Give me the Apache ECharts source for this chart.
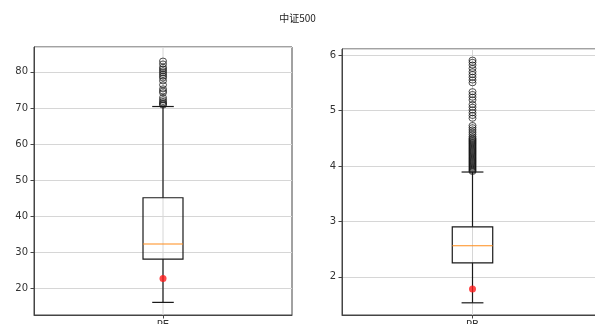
<!DOCTYPE html>
<html>
<head>
<meta charset="utf-8">
<script src="https://cdn.jsdelivr.net/npm/echarts@6/dist/echarts.min.js"></script>
<style>html,body{margin:0;padding:0;background:#fff}#c{width:595px;height:324px}</style>
</head>
<body>
<div id="c"></div>
<script>
const title = '中证500';
const catPE = ['PE'];
const catPB = ['PB'];
// [low whisker, Q1, median, Q3, high whisker]
const boxPE = [16.1, 28.1, 32.3, 45.1, 70.4];
const boxPB = [1.53, 2.25, 2.56, 2.90, 3.89];
const meanPE = [22.7];
const meanPB = [1.78];
const outPE = [70.8, 71.1, 71.4, 71.8, 72.3, 72.9, 74.2, 74.7, 75.3, 76.4, 77.5, 78.3, 78.8, 79.3, 79.8, 80.3, 80.8, 81.3, 82.2, 83.0];
const outPB = [3.90, 3.92, 3.94, 3.96, 3.98, 4.00, 4.02, 4.04, 4.06, 4.08, 4.10, 4.12, 4.14, 4.16, 4.18, 4.20, 4.22, 4.24, 4.26, 4.28, 4.30, 4.32, 4.34, 4.36, 4.38, 4.40, 4.42, 4.44, 4.46, 4.48, 4.50, 4.53, 4.57, 4.61, 4.65, 4.69, 4.73,
  4.86, 4.91, 4.96, 5.01, 5.06, 5.11, 5.19, 5.24, 5.29, 5.34,
  5.50, 5.55, 5.60, 5.65, 5.70, 5.76, 5.82, 5.87, 5.91];
const yPE = {min: 12.6, max: 86.9, split: 7};
const yPB = {min: 1.31, max: 6.11, split: 5};

const chart = echarts.init(document.getElementById('c'), null, {renderer: 'canvas'});

function renderBox(params, api) {
  const x = api.value(0);
  const low = api.coord([x, api.value(1)]);
  const q1 = api.coord([x, api.value(2)]);
  const med = api.coord([x, api.value(3)]);
  const q3 = api.coord([x, api.value(4)]);
  const high = api.coord([x, api.value(5)]);
  const band = api.size([1, 0])[0];
  const w = band * 0.155;
  const cw = w * 0.54;
  const cx = low[0];
  const ls = {stroke: '#1a1a1a', lineWidth: 1.2, fill: null};
  return {
    type: 'group',
    children: [
      {type: 'line', shape: {x1: cx, y1: low[1], x2: cx, y2: q1[1]}, style: ls},
      {type: 'line', shape: {x1: cx, y1: q3[1], x2: cx, y2: high[1]}, style: ls},
      {type: 'line', shape: {x1: cx - cw / 2, y1: low[1], x2: cx + cw / 2, y2: low[1]}, style: ls},
      {type: 'line', shape: {x1: cx - cw / 2, y1: high[1], x2: cx + cw / 2, y2: high[1]}, style: ls},
      {type: 'rect', shape: {x: cx - w / 2, y: q3[1], width: w, height: q1[1] - q3[1]}, style: {stroke: '#1a1a1a', lineWidth: 1.2, fill: 'rgba(0,0,0,0)'}},
      {type: 'line', shape: {x1: cx - w / 2, y1: med[1], x2: cx + w / 2, y2: med[1]}, style: {stroke: '#ff8c1a', lineWidth: 1.1}}
    ]
  };
}

function yAxis(idx, r) {
  return {
    type: 'value', gridIndex: idx, min: r.min, max: r.max, splitNumber: r.split,
    axisLine: {show: true, lineStyle: {color: '#444', width: 1}},
    axisTick: {show: true, length: 3.5, lineStyle: {color: '#444'}},
    axisLabel: {showMinLabel: false, showMaxLabel: false, color: '#333', fontSize: 10, fontFamily: 'DejaVu Sans', margin: 6},
    splitLine: {show: true, lineStyle: {color: '#d6d6d6', width: 1}}
  };
}
function xAxis(idx, cats) {
  return {
    type: 'category', gridIndex: idx, data: cats, boundaryGap: true,
    axisLine: {show: true, lineStyle: {color: '#444', width: 1}},
    axisTick: {show: true, alignWithLabel: true, length: 3.5, lineStyle: {color: '#444'}},
    axisLabel: {color: '#333', fontSize: 10, fontFamily: 'DejaVu Sans', margin: 5},
    splitLine: {show: false}
  };
}

const option = {
  animation: false,
  backgroundColor: '#fff',
  title: {text: title, left: 'center', top: 8, textStyle: {fontSize: 10, fontWeight: 'normal', color: '#222', fontFamily: 'Noto Sans CJK SC'}},
  grid: [
    {left: 34, right: 303, top: 47, bottom: 9, show: true, borderColor: '#444', borderWidth: 1, containLabel: false, outerBoundsMode: 'none'},
    {left: 342, right: -8, top: 49, bottom: 9, show: true, borderColor: '#444', borderWidth: 1, containLabel: false, outerBoundsMode: 'none'}
  ],
  xAxis: [xAxis(0, catPE), xAxis(1, catPB)],
  yAxis: [yAxis(0, yPE), yAxis(1, yPB)],
  series: [
    {type: 'custom', xAxisIndex: 0, yAxisIndex: 0, silent: true, z: 1,
      data: [[0]], renderItem: function (p, api) {
        const a = api.coord([0, yPE.min]), b = api.coord([0, yPE.max]);
        return {type: 'line', shape: {x1: a[0], y1: a[1], x2: b[0], y2: b[1]}, style: {stroke: '#d6d6d6', lineWidth: 1}};
      }},
    {type: 'custom', xAxisIndex: 1, yAxisIndex: 1, silent: true, z: 1,
      data: [[0]], renderItem: function (p, api) {
        const a = api.coord([0, yPB.min]), b = api.coord([0, yPB.max]);
        return {type: 'line', shape: {x1: a[0], y1: a[1], x2: b[0], y2: b[1]}, style: {stroke: '#d6d6d6', lineWidth: 1}};
      }},
    {type: 'custom', xAxisIndex: 0, yAxisIndex: 0, z: 2, renderItem: renderBox, data: [[0].concat(boxPE)]},
    {type: 'custom', xAxisIndex: 1, yAxisIndex: 1, z: 2, renderItem: renderBox, data: [[0].concat(boxPB)]},
    {type: 'scatter', xAxisIndex: 0, yAxisIndex: 0, z: 3, symbol: 'circle', symbolSize: [7, 6],
      itemStyle: {color: 'rgba(0,0,0,0)', borderColor: '#111', borderWidth: 0.9},
      data: outPE.map(v => [0, v])},
    {type: 'scatter', xAxisIndex: 1, yAxisIndex: 1, z: 3, symbol: 'circle', symbolSize: [7, 6],
      itemStyle: {color: 'rgba(0,0,0,0)', borderColor: '#111', borderWidth: 0.9},
      data: outPB.map(v => [0, v])},
    {type: 'scatter', xAxisIndex: 0, yAxisIndex: 0, z: 4, symbol: 'circle', symbolSize: 7,
      itemStyle: {color: '#ff1a1a'}, data: meanPE.map(v => [0, v])},
    {type: 'scatter', xAxisIndex: 1, yAxisIndex: 1, z: 4, symbol: 'circle', symbolSize: 7,
      itemStyle: {color: '#ff1a1a'}, data: meanPB.map(v => [0, v])}
  ]
};
chart.setOption(option);
</script>
</body>
</html>
